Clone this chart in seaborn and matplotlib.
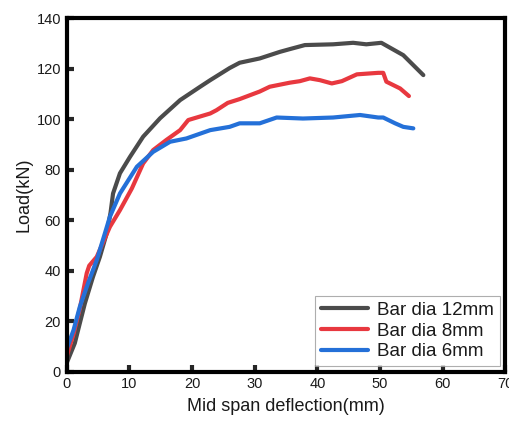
import pandas as pd
import matplotlib.pyplot as plt
import seaborn as sns

# Load-deflection curves
defl_12 = [0, 1.3, 2.1, 2.9, 4.2, 5.3, 6.4, 7.0, 7.4, 8.5, 10.1, 12.2, 14.9, 18.1, 21.3, 22.9,
           26.0, 27.6, 30.8, 34.0, 35.6, 38.0, 42.5, 45.7, 47.8, 50.2, 53.7, 56.9]
load_12 = [3.4, 11.3, 19.2, 27.0, 37.6, 45.5, 54.9, 63.0, 70.6, 78.6, 85.1, 93.1, 100.4, 107.6, 112.9, 115.5,
           120.3, 122.4, 124.1, 126.7, 127.8, 129.4, 129.7, 130.3, 129.7, 130.3, 125.4, 117.5]

defl_8 = [0, 1.1, 2.1, 3.2, 3.6, 4.8, 6.9, 8.5, 10.4, 12.2, 13.8, 15.9, 18.1, 19.4, 22.9,
          23.9, 25.7, 27.6, 29.2, 30.8, 32.4, 35.6, 37.2, 38.8, 40.4, 42.3, 43.9, 46.3, 49.7,
          50.5, 51.0, 53.2, 54.6]
load_8 = [6.0, 15.0, 25.0, 39.0, 42.0, 45.5, 57.4, 64.0, 72.6, 82.5, 87.8, 91.8, 95.7, 99.7, 102.3,
          103.6, 106.5, 108.0, 109.5, 111.0, 112.9, 114.5, 115.1, 116.2, 115.5, 114.2, 115.1, 117.8, 118.4,
          118.4, 114.9, 112.2, 109.2]

defl_6 = [0, 1.1, 2.1, 3.4, 4.8, 6.1, 6.9, 8.5, 11.2, 13.8, 16.5, 19.1, 22.9, 26.0,
          27.6, 30.8, 33.5, 37.7, 42.5, 46.8, 49.7, 50.5, 52.4, 53.7, 55.3]
load_6 = [9.0, 16.5, 25.7, 35.0, 44.2, 54.8, 61.4, 70.6, 81.2, 87.1, 91.1, 92.4, 95.7, 97.0,
          98.4, 98.4, 100.7, 100.3, 100.7, 101.7, 100.7, 100.7, 98.4, 97.0, 96.4]

labels = ['Bar dia 12mm', 'Bar dia 8mm', 'Bar dia 6mm']
colors = ['#4b4b4b', '#e8383f', '#2470d8']

data = pd.concat([
    pd.DataFrame({'deflection': defl_12, 'load': load_12, 'bar': labels[0]}),
    pd.DataFrame({'deflection': defl_8, 'load': load_8, 'bar': labels[1]}),
    pd.DataFrame({'deflection': defl_6, 'load': load_6, 'bar': labels[2]}),
])

sns.set_theme(style='ticks')
plt.rcParams['font.family'] = ['Liberation Sans', 'DejaVu Sans']

fig = plt.figure(figsize=(5.1, 4.23), dpi=100)
ax = fig.add_axes([0.1307, 0.1213, 0.8604, 0.8354])

sns.lineplot(data=data, x='deflection', y='load', hue='bar', hue_order=labels,
             palette=colors, sort=False, estimator=None, linewidth=3, ax=ax)

ax.set_xlim(0, 70)
ax.set_ylim(0, 140)
ax.set_xticks(range(0, 71, 10))
ax.set_yticks(range(0, 141, 20))
ax.set_xlabel('Mid span deflection(mm)', fontsize=13, color='#1a1a1a', labelpad=5)
ax.set_ylabel('Load(kN)', fontsize=13, color='#1a1a1a', labelpad=3)

for spine in ax.spines.values():
    spine.set_linewidth(3)
    spine.set_color('black')
ax.tick_params(direction='in', length=5, width=3, labelsize=10.5, pad=4,
               labelcolor='#1a1a1a', top=False, right=False)

leg = ax.legend(loc='lower right', fontsize=13.5, frameon=True, fancybox=False,
                handlelength=2.5, borderaxespad=0.3, labelspacing=0.2,
                borderpad=0.3, handletextpad=0.5)
leg.get_frame().set_edgecolor('#9a9a9a')
leg.get_frame().set_linewidth(0.8)
for text in leg.get_texts():
    text.set_color('#1a1a1a')
for line in leg.get_lines():
    line.set_linewidth(3)

plt.savefig('out.png', dpi=100)
